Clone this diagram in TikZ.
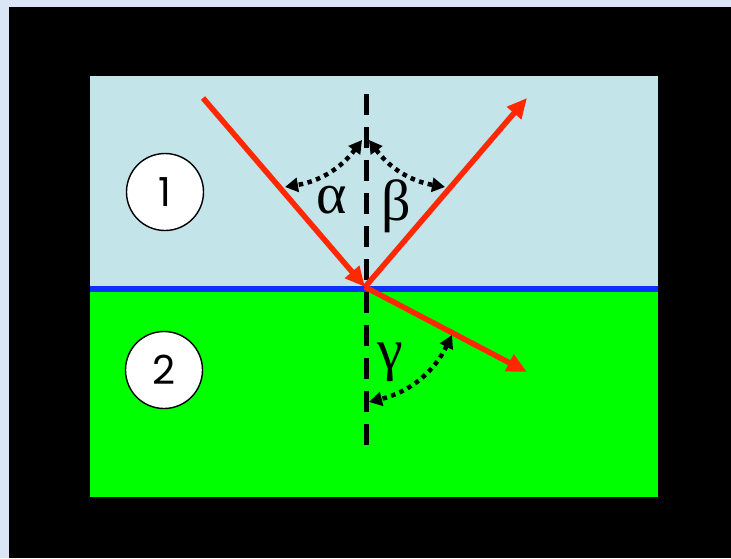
\documentclass[tikz,border=0pt]{standalone}
\usepackage{fontspec}
\newfontfamily\digitfont{Poppins}
\newfontfamily\greekfont{Liberation Serif}
\usetikzlibrary{arrows.meta}
\definecolor{bgpale}{RGB}{218,230,246}
\definecolor{medone}{RGB}{195,228,232}
\definecolor{medtwo}{RGB}{0,255,0}
\definecolor{iface}{RGB}{10,50,255}
\definecolor{ray}{RGB}{255,40,0}
\tikzset{
  raystyle/.style={draw=ray, line width=5.5pt, -{Triangle[length=20pt,width=18pt]}},
  normalline/.style={draw=black, line width=5pt, dash pattern=on 21pt off 12pt},
  angarrow/.style={draw=black, line width=4.5pt, dash pattern=on 4.5pt off 4.5pt, {Triangle[length=13pt,width=14pt]}-{Triangle[length=13pt,width=14pt]}},
  numcircle/.style={circle, draw=black, line width=1.4pt, fill=white, minimum size=77pt, inner sep=0pt, font=\digitfont\fontsize{40}{40}\selectfont},
  greek/.style={inner sep=0pt, font=\greekfont\fontsize{58}{58}\selectfont}
}
\begin{document}
\begin{tikzpicture}[x=1pt,y=-1pt]
\useasboundingbox (0,0) rectangle (731,558);
\fill[bgpale] (0,0) rectangle (731,558);
\fill[black] (9,7) rectangle (731,558);
\fill[medone] (90,76) rectangle (658,289);
\fill[medtwo] (90,289) rectangle (658,497);
\draw[iface, line width=6pt] (90,289) -- (658,289);
% coordinates
\coordinate (O) at (365,287);
\coordinate (A) at (203,98);
\coordinate (B) at (527,98);
\coordinate (C) at (527,372);
\coordinate (N1) at (366,94);
\coordinate (N2) at (366,452);
\draw[normalline] (N1) -- (N2);
\draw[raystyle] (A) -- (O);
\draw[raystyle] (O) -- (B);
\draw[raystyle] (O) -- (C);
% angle arcs
\coordinate (a1) at (362,140);
\coordinate (a2) at (285,187);
\coordinate (b1) at (369,140);
\coordinate (b2) at (445,187);
\coordinate (g1) at (452,335);
\coordinate (g2) at (369,402);
\draw[angarrow] (a1) to[bend left=22] (a2);
\draw[angarrow] (b1) to[bend right=22] (b2);
\draw[angarrow] (g1) to[bend left=25] (g2);
% labels
\node[greek] (alpha) at (332,200) {α};
\node[greek] (beta) at (396,206) {β};
\node[greek] (gamma) at (390,362) {γ};
\node[numcircle] (c1) at (165,192) {1};
\node[numcircle] (c2) at (164,370) {2};
\end{tikzpicture}
\end{document}
